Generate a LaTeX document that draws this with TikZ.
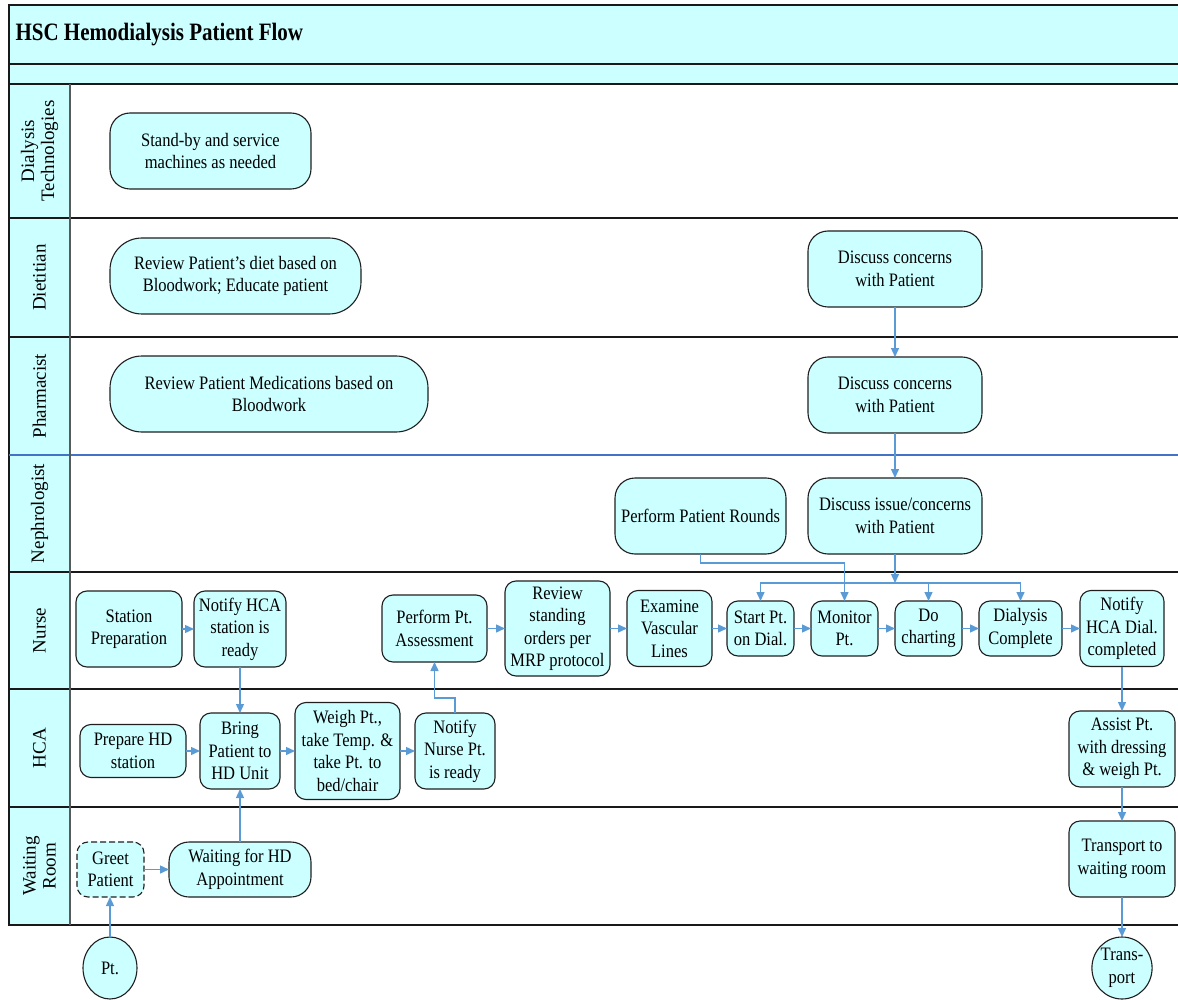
\documentclass[tikz,border=0pt]{standalone}
\usepackage{fontspec}
\setmainfont{Liberation Serif}
\newfontfamily\hdbody{Liberation Serif}[FakeStretch=0.87]
\newfontfamily\hdhead{Liberation Serif}[FakeStretch=0.84]
\usepackage{xcolor}
\usepackage{tikz}
\usetikzlibrary{positioning,shapes.geometric,arrows.meta,calc}

\definecolor{hdcyan}{RGB}{204,255,255}
\definecolor{hdblue}{RGB}{91,155,213}
\definecolor{lanebar}{RGB}{68,114,196}

\newcommand{\bodytext}{\hdbody\fontsize{19}{22.5}\selectfont}
\newcommand{\titletext}{\hdhead\bfseries\fontsize{25}{28}\selectfont}
\newcommand{\lanetext}{\fontsize{19}{20}\selectfont}

\begin{document}
\begin{tikzpicture}[x=1pt, y=-1pt,
    % Style definitions
    task/.style={rectangle, rounded corners=11pt, draw=black!88, line width=1.1pt, fill=hdcyan, align=center, inner sep=1pt, outer sep=0pt, font=\bodytext},
    softbox/.style={task, rounded corners=20pt},
    pillbox/.style={task, rounded corners=32pt},
    terminal/.style={ellipse, draw=black!88, line width=1.1pt, fill=hdcyan, align=center, inner sep=0pt, outer sep=0pt, font=\bodytext},
    lanelabel/.style={rotate=90, align=center, font=\lanetext},
    laneline/.style={draw=black!90, line width=1.3pt},
    flow/.style={-{Triangle[length=9pt,width=8pt]}, draw=hdblue, line width=1.4pt}
]
\useasboundingbox (0,0) rectangle (1178,1000);

% Swimlane frame
\fill[hdcyan] (9,5) rectangle (1182,84);
\fill[hdcyan] (9,84) rectangle (70,925);
\draw[laneline] (1182,5) -- (9,5) -- (9,925) -- (1182,925);
\foreach \y in {64,84,218,337,572,689,807}
    \draw[laneline] (9,\y) -- (1182,\y);
\draw[laneline, draw=lanebar] (9,455) -- (1182,455);
\draw[draw=black!65, line width=1.2pt] (70,84) -- (70,925);

\node[anchor=west, font=\titletext] (title) at (12,35) {HSC Hemodialysis Patient Flow};

% Lane labels
\node[lanelabel] (lanetech) at (39.5,151) {Dialysis\\Technologies};
\node[lanelabel] (lanediet) at (39.5,277.5) {Dietitian};
\node[lanelabel] (lanepharm) at (39.5,396) {Pharmacist};
\node[lanelabel] (laneneph) at (39.5,513.5) {Nephrologist};
\node[lanelabel] (lanenurse) at (39.5,630.5) {Nurse};
\node[lanelabel] (lanehca) at (39.5,748) {HCA};
\node[lanelabel] (lanewait) at (39.5,866) {Waiting\\Room};

% Dialysis technologies, dietitian, pharmacist
\node[softbox, minimum width=201pt, minimum height=76pt] (standby) at (210.5,151) {Stand-by and service\\machines as needed};
\node[pillbox, minimum width=251pt, minimum height=76pt] (diet) at (235.5,276) {Review Patient’s diet based on\\Bloodwork; Educate patient};
\node[pillbox, minimum width=318pt, minimum height=76pt] (meds) at (269,394) {Review Patient Medications based on\\Bloodwork};

% Concerns column
\node[softbox, minimum width=174pt, minimum height=76pt] (dietdisc) at (895,269) {Discuss concerns\\with Patient};
\node[softbox, minimum width=174pt, minimum height=76pt, below=50pt of dietdisc] (pharmdisc) {Discuss concerns\\with Patient};
\node[softbox, minimum width=174pt, minimum height=76pt, below=45pt of pharmdisc] (nephdisc) {Discuss issue/concerns\\with Patient};
\node[softbox, minimum width=171pt, minimum height=76pt, left=22pt of nephdisc] (rounds) {Perform Patient Rounds};

% Nurse lane
\node[task, minimum width=106pt, minimum height=76pt] (station) at (129,629) {Station\\Preparation};
\node[task, minimum width=92pt, minimum height=76pt, right=12pt of station] (notifyhca) {Notify HCA\\station is\\ready};
\node[task, minimum width=105pt, minimum height=67pt] (assess) at (434.5,628.5) {Perform Pt.\\Assessment};
\node[task, minimum width=105pt, minimum height=95pt, right=18pt of assess] (review) {Review\\standing\\orders per\\MRP protocol};
\node[task, minimum width=85pt, minimum height=76pt, right=17pt of review] (examine) {Examine\\Vascular\\Lines};
\node[task, minimum width=67pt, minimum height=55pt, right=15pt of examine] (startdial) {Start Pt.\\on Dial.};
\node[task, minimum width=67pt, minimum height=55pt, right=17pt of startdial] (monitor) {Monitor\\Pt.};
\node[task, minimum width=67pt, minimum height=55pt, right=17pt of monitor] (charting) {Do\\charting};
\node[task, minimum width=83pt, minimum height=55pt, right=17pt of charting] (complete) {Dialysis\\Complete};
\node[task, minimum width=84pt, minimum height=76pt, right=18pt of complete] (notifydial) {Notify\\HCA Dial.\\completed};

% HCA lane
\node[task, minimum width=106pt, minimum height=53pt] (preparehd) at (133,751) {Prepare HD\\station};
\node[task, minimum width=80pt, minimum height=76pt, right=14pt of preparehd] (bring) {Bring\\Patient to\\HD Unit};
\node[task, minimum width=105pt, minimum height=97pt, right=15pt of bring] (weigh) {Weigh Pt.,\\take Temp. \&\\take Pt. to\\bed/chair};
\node[task, minimum width=80pt, minimum height=76pt, right=15pt of weigh] (notifynurse) {Notify\\Nurse Pt.\\is ready};
\node[task, minimum width=106pt, minimum height=76pt] (assist) at (1122,749) {Assist Pt.\\with dressing\\\& weigh Pt.};

% Waiting room
\node[task, dash pattern=on 6pt off 3pt, minimum width=67pt, minimum height=55pt] (greet) at (110.5,869.5) {Greet\\Patient};
\node[softbox, minimum width=142pt, minimum height=55pt, right=25pt of greet] (waiting) {Waiting for HD\\Appointment};
\node[task, minimum width=106pt, minimum height=76pt, below=34pt of assist] (transportbox) {Transport to\\waiting room};

% Start and end
\node[terminal, minimum width=54pt, minimum height=62pt] (pt) at (110,968) {Pt.};
\node[terminal, minimum width=56pt, minimum height=62pt, below=40pt of transportbox] (transport) {Trans-\\port};

% Connections
\draw[flow] (pt.north) -- (pt.north |- greet.south);
\draw[flow] (greet) -- (waiting);
\draw[flow] (waiting.north) -- (waiting.north |- bring.south);
\draw[flow] (station) -- (notifyhca);
\draw[flow] (notifyhca.south) -- (notifyhca.south |- bring.north);
\draw[flow] (preparehd) -- (bring);
\draw[flow] (bring) -- (weigh);
\draw[flow] (weigh) -- (notifynurse);
\draw[flow] (notifynurse.north) -- ++(0,-15) -| (assess.south);
\draw[flow] (assess) -- (review);
\draw[flow] (review) -- (examine);
\draw[flow] (examine) -- (startdial);
\draw[flow] (startdial) -- (monitor);
\draw[flow] (monitor) -- (charting);
\draw[flow] (charting) -- (complete);
\draw[flow] (complete) -- (notifydial);
\draw[flow] (notifydial.south) -- (notifydial.south |- assist.north);
\draw[flow] (assist) -- (transportbox);
\draw[flow] (transportbox) -- (transport);

\draw[flow] (dietdisc) -- (pharmdisc);
\draw[flow] (pharmdisc) -- (nephdisc);
\coordinate (split) at (nephdisc.south |- 0,583);
\draw[flow] (nephdisc.south) -- (split);
\draw[flow] (split) -| (startdial.north);
\draw[flow] (split) -| (charting.north);
\draw[flow] (split) -| (complete.north);
\draw[flow] (rounds.south) -- ++(0,9) -| (monitor.north);

\end{tikzpicture}
\end{document}
